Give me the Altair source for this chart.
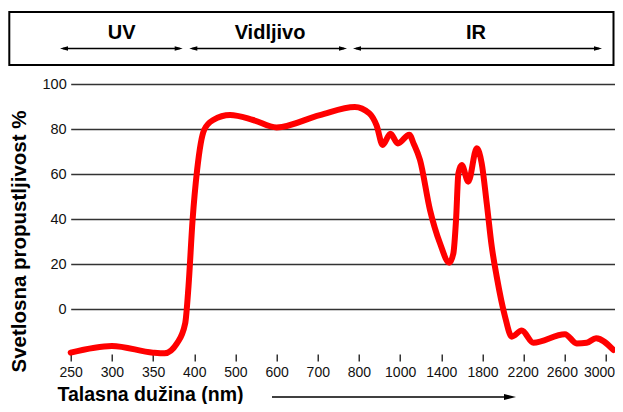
import altair as alt
import pandas as pd

# Wavelength (nm) and transmittance (%)
wavelength = [250, 300, 350, 364, 379, 389, 393, 398, 407, 424, 446, 487, 543, 600,
              705, 790, 850, 886, 915, 953, 989, 1089, 1130, 1193, 1290, 1387, 1478,
              1517, 1543, 1566, 1598, 1662, 1744, 1792, 1841, 1890, 1938, 2019, 2084,
              2181, 2294, 2601, 2715, 2812, 2903, 3071]
transmit = [-19.4, -16.4, -19.4, -19.7, -15.3, -6.4, 9.9, 39.6, 61.8, 79.6, 84, 86.2, 84, 80.7,
            86.2, 89.8, 87, 81.5, 72.9, 77.9, 73.6, 77.5, 73.6, 66.2, 44, 29.2, 20.6,
            24.7, 39.6, 60.3, 64, 56.6, 71.4, 64.8, 47, 27.7, 14.4, -3.4, -12.3,
            -9.6, -15, -11.2, -15.3, -15, -13, -18.2]

x_ticks = [250, 300, 350, 400, 500, 600, 700, 800, 1000, 1400, 1800, 2200, 2600, 3000]
y_ticks = [0, 20, 40, 60, 80, 100]
bands = ["UV", "Vidljivo", "IR"]

STEP = 41.18
x_domain = x_ticks + [3400]
x_range = [round(i * STEP, 2) for i in range(len(x_domain))]

df = pd.DataFrame({"wl": wavelength, "t": transmit})
one = pd.DataFrame({"a": [0]})

FONT = "Liberation Sans"

curve = alt.Chart(df).mark_line(
    color="#ff0000", strokeWidth=6, interpolate="monotone", strokeCap="round", strokeJoin="round"
).encode(
    x=alt.X("wl:Q",
            scale=alt.Scale(type="linear", domain=x_domain, range=x_range, nice=False, zero=False),
            axis=alt.Axis(values=x_ticks, grid=False, domain=False, ticks=True, tickSize=7,
                          tickColor="#000", tickWidth=1.2, labelFont=FONT, labelFontSize=14,
                          labelColor="#111", labelPadding=4, labelFlush=False, labelOverlap=False,
                          labelOffset={"expr": "datum.value == 3000 ? -7 : (datum.value == 2600 ? -3 : (datum.value == 2200 ? -1 : 0))"},
                          format="d",
                          title="Talasna dužina (nm)", titleFont=FONT, titleFontSize=19.5,
                          titleFontWeight="bold", titleColor="#000", titleAlign="left",
                          titleBaseline="middle", titleX=-13.7, titleY=40, titleAngle=0)),
    y=alt.Y("t:Q",
            scale=alt.Scale(domain=[-20, 100], nice=False, zero=False),
            axis=alt.Axis(values=y_ticks, grid=True, gridColor="#333", gridWidth=1.5,
                          domain=False, ticks=False, tickSize=0, labelFont=FONT,
                          labelFontSize=14.5, labelColor="#111", labelPadding=4.5,
                          title="Svetlosna propustljivost %", titleFont=FONT, titleFontSize=20.5,
                          titleFontWeight="bold", titleColor="#000", titleAlign="center",
                          titleBaseline="middle", titleAngle=270, titleX=-50.7, titleY=157)),
)

layers = [curve]

# header box
layers.append(alt.Chart(one).mark_rect(fillOpacity=0, stroke="#000", strokeWidth=2).encode(
    x=alt.value(-61.4), x2=alt.value(542.8), y=alt.value(-72), y2=alt.value(-19)))

# band labels
for name, cx in zip(bands, [51, 199.3, 405.3]):
    layers.append(alt.Chart(one).mark_text(
        text=name, font=FONT, fontSize=20, fontWeight="bold", color="#000",
        align="center", baseline="middle").encode(x=alt.value(cx), y=alt.value(-51)))

# band arrows
RIGHT = "M -1 -0.55 L 1 0 L -1 0.55 Z"
LEFT = "M 1 -0.55 L -1 0 L 1 0.55 Z"
AY = -35.5
for x0, x1 in [(-10.7, 112), (118.6, 276.3), (282.3, 531.3)]:
    layers.append(alt.Chart(one).mark_rule(color="#000", strokeWidth=1.3).encode(
        x=alt.value(x0 + 3), x2=alt.value(x1 - 3), y=alt.value(AY)))
    layers.append(alt.Chart(one).mark_point(shape=LEFT, filled=True, color="#000", size=64, opacity=1).encode(
        x=alt.value(x0 + 4), y=alt.value(AY)))
    layers.append(alt.Chart(one).mark_point(shape=RIGHT, filled=True, color="#000", size=64, opacity=1).encode(
        x=alt.value(x1 - 4), y=alt.value(AY)))

# x-title arrow
TY = 397
layers.append(alt.Chart(one).mark_rule(color="#000", strokeWidth=1.3).encode(
    x=alt.value(201.3), x2=alt.value(440), y=alt.value(TY - 84)))
layers.append(alt.Chart(one).mark_point(shape="M -1 -0.5 L 1 0 L -1 0.5 Z", filled=True, color="#000",
                                        size=144, opacity=1).encode(
    x=alt.value(439.3), y=alt.value(TY - 84)))

chart = alt.layer(*layers).properties(
    width=543, height=270,
    autosize=alt.AutoSizeParams(type="none"),
    padding={"left": 62.7, "top": 76, "right": 1.3, "bottom": 50},
    background="white",
).configure_view(stroke=None)

chart.save("out.html", embed_options={"renderer": "svg", "actions": False})
